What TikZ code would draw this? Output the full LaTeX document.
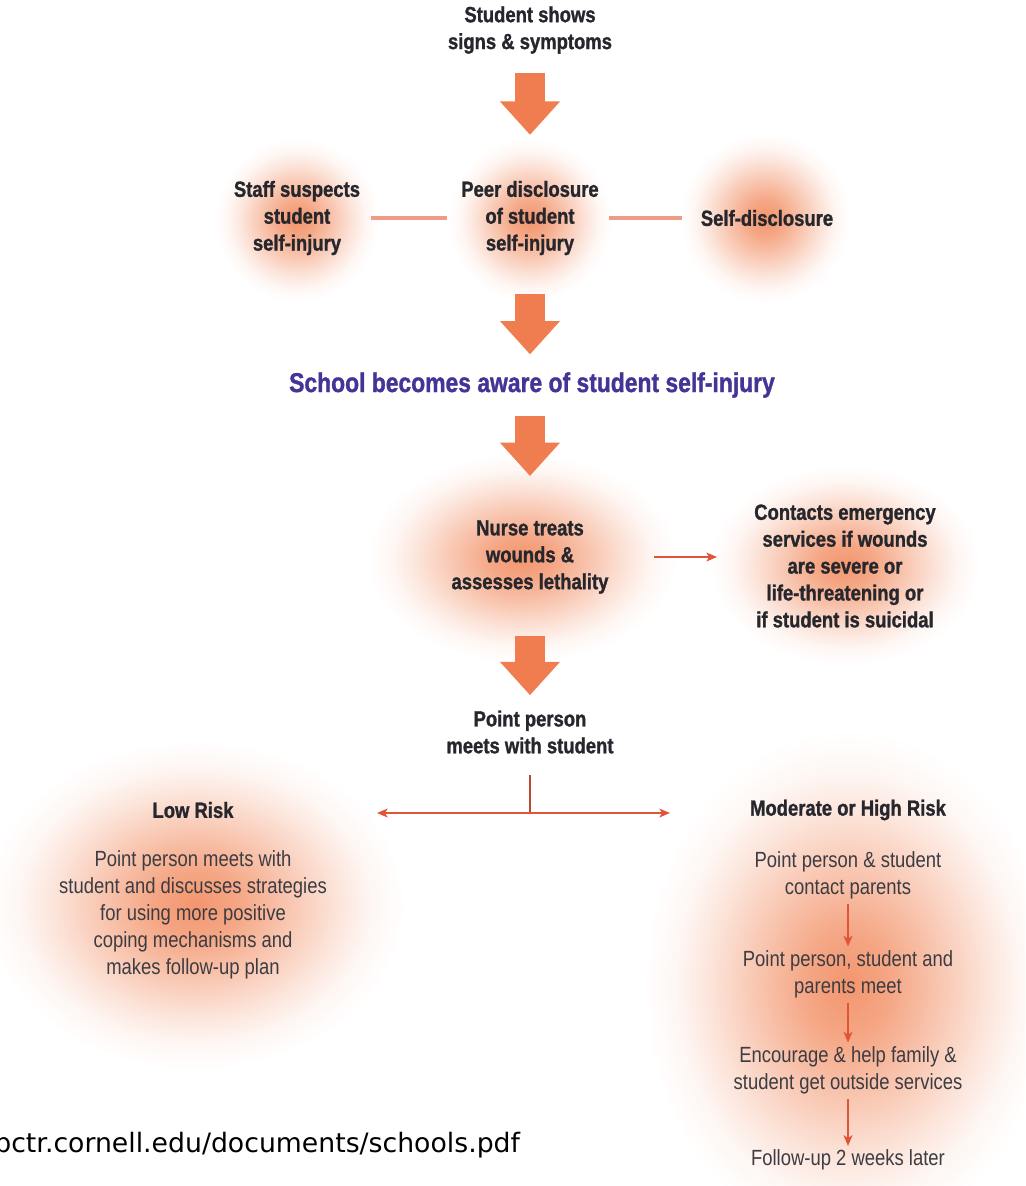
\documentclass[tikz,border=0pt]{standalone}
\usepackage{fontspec}
\setmainfont{Liberation Sans}[FakeStretch=0.84, BoldFeatures={FakeBold=1.2}]
\newfontfamily\urlfont{DejaVu Sans}
\usetikzlibrary{arrows.meta}

\definecolor{fatorange}{RGB}{240,125,80}
\definecolor{linkpink}{RGB}{238,155,135}
\definecolor{tipred}{RGB}{224,84,56}
\definecolor{glowc}{RGB}{243,150,110}
\definecolor{awareblue}{RGB}{68,52,150}
\definecolor{inkc}{RGB}{38,38,45}

\pgfdeclareradialshading{glow}{\pgfpointorigin}{color(0bp)=(glowc); color(5bp)=(glowc!85!white); color(11bp)=(glowc!55!white); color(17bp)=(glowc!25!white); color(21bp)=(glowc!8!white); color(25bp)=(white); color(50bp)=(white)}

\begin{document}
\begin{tikzpicture}[x=0.02cm, y=-0.02cm,
	txt/.style={align=center, font=\fontsize{12.5}{15.3}\selectfont\bfseries, text=inkc, inner sep=2pt},
	body/.style={align=center, font=\fontsize{12.5}{15.3}\selectfont, text=inkc!90!white, inner sep=2pt},
	fat/.style={fatorange, line width=17pt, -{Triangle[width=33pt,length=19pt]}},
	link/.style={linkpink, line width=1.8pt},
	thin/.style={tipred, line width=1.1pt, -{Stealth[length=6pt,width=5pt,inset=1.5pt]}}]
	\useasboundingbox (0,0) rectangle (1025,1186);
	\clip (0,0) rectangle (1025,1186);
	% glows
	\shade[shading=glow] (297,220) ellipse (82 and 82);
	\shade[shading=glow] (530,220) ellipse (82 and 82);
	\shade[shading=glow] (765,218) ellipse (85 and 85);
	\shade[shading=glow] (522,558) ellipse (155 and 105);
	\shade[shading=glow] (845,565) ellipse (135 and 100);
	\shade[shading=glow] (195,905) ellipse (210 and 165);
	\shade[shading=glow] (848,985) ellipse (205 and 255);
	% nodes
	\node[txt] (signs) at (530,30) {Student shows\\signs \& symptoms};
	\node[txt] (staff) at (297,218) {Staff suspects\\student\\self-injury};
	\node[txt] (peer) at (530,218) {Peer disclosure\\of student\\self-injury};
	\node[txt] (selfdis) at (767,218) {Self-disclosure};
	\node[txt, text=awareblue, font=\fontsize{15.5}{18}\selectfont\bfseries] (aware) at (532,385) {School becomes aware of student self-injury};
	\node[txt] (nurse) at (530,557) {Nurse treats\\wounds \&\\assesses lethality};
	\node[txt] (emerg) at (845,566) {Contacts emergency\\services if wounds\\are severe or\\life-threatening or\\if student is suicidal};
	\node[txt] (point) at (530,732) {Point person\\meets with student};
	\node[txt] (low) at (193,810) {Low Risk};
	\node[body] (lowplan) at (193,915) {Point person meets with\\student and discusses strategies\\for using more positive\\coping mechanisms and\\makes follow-up plan};
	\node[txt] (high) at (848,810) {Moderate or High Risk};
	\node[body] (parents) at (848,875) {Point person \& student\\contact parents};
	\node[body] (meet) at (848,974) {Point person, student and\\parents meet};
	\node[body] (services) at (848,1070) {Encourage \& help family \&\\student get outside services};
	\node[body] (followup) at (848,1160) {Follow-up 2 weeks later};
	\node[anchor=base west, inner sep=0, text=black, font=\urlfont\fontsize{15.2}{18}\selectfont] (source) at (-6,1152) {bctr.cornell.edu/documents/schools.pdf};
	\coordinate (split) at (530,813);
	\coordinate (lowend) at (377,813);
	\coordinate (highend) at (670,813);
	% connectors
	\draw[fat, shorten <=9pt, shorten >=24pt] (signs) -- (peer);
	\draw[fat, shorten <=20pt, shorten >=8pt] (peer) -- (aware.north -| peer);
	\draw[fat, shorten <=8pt, shorten >=23pt] (aware.south -| nurse) -- (nurse);
	\draw[fat, shorten <=22pt, shorten >=6.5pt] (nurse) -- (point);
	\draw[link, shorten <=4pt, shorten >=6pt] (staff) -- (peer);
	\draw[link, shorten <=3.4pt, shorten >=8.5pt] (peer) -- (selfdis);
	\draw[thin, shorten <=24pt, shorten >=19pt] (nurse.east) -- (nurse.east -| emerg.west);
	\draw[tipred!85!black, line width=0.9pt, shorten <=10pt] (point) -- (split);
	\draw[thin] (split) -- (lowend);
	\draw[thin] (split) -- (highend);
	\draw[thin, shorten <=1pt] (parents) -- (meet);
	\draw[thin, shorten <=1pt] (meet) -- (services);
	\draw[thin, shorten <=1pt] (services) -- (followup);
\end{tikzpicture}
\end{document}
